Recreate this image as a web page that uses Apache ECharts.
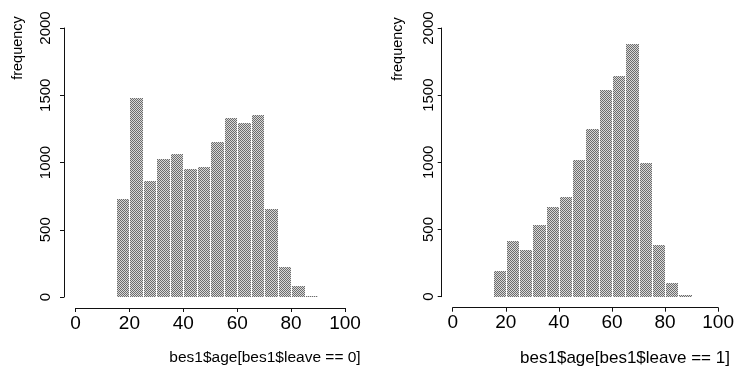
<!DOCTYPE html>
<html>
<head>
<meta charset="utf-8">
<script src="https://cdn.jsdelivr.net/npm/echarts@6/dist/echarts.min.js"></script>
<style>
  html, body { margin: 0; padding: 0; background: #fff; }
  #chart { width: 737px; height: 370px; }
</style>
</head>
<body>
<div id="chart"></div>
<script>
// Age histograms (5-year bins) split by the leave indicator
const binStarts = [15, 20, 25, 30, 35, 40, 45, 50, 55, 60, 65, 70, 75, 80, 85];
const binWidth = 5;
const countsLeave0 = [732, 1480, 866, 1025, 1062, 952, 968, 1155, 1333, 1296, 1351, 652, 225, 82, 8];
const countsLeave1 = [195, 415, 346, 532, 669, 742, 1015, 1246, 1536, 1641, 1880, 995, 384, 100, 13];
const xTicks = { min: 0, max: 100, interval: 20 };
const yTicks = { min: 0, max: 2000, interval: 500 };
const yTitle = 'frequency';
const xTitles = ['bes1$age[bes1$leave == 0]', 'bes1$age[bes1$leave == 1]'];

const chart = echarts.init(document.getElementById('chart'), null, { renderer: 'canvas' });

const ink = '#111';
const font = 'Liberation Sans, Arial, Helvetica, sans-serif';

// Halftone-style fill for the bars: a small ordered-dither tile of dark and light pixels
function makeHalftoneTile() {
  const bayer = [
    [0, 8, 2, 10],
    [12, 4, 14, 6],
    [3, 11, 1, 9],
    [15, 7, 13, 5]
  ];
  const size = 4;
  const c = document.createElement('canvas');
  c.width = size; c.height = size;
  const ctx = c.getContext('2d');
  for (let y = 0; y < size; y++) {
    for (let x = 0; x < size; x++) {
      ctx.fillStyle = bayer[y][x] < 8 ? '#6c6c6c' : '#d8d8d8';
      ctx.fillRect(x, y, 1, 1);
    }
  }
  return c;
}
const barFill = { image: makeHalftoneTile(), repeat: 'repeat' };

function histData(counts) {
  return binStarts.map((s, i) => [s, s + binWidth, counts[i]]);
}

function renderBin(params, api) {
  const p0 = api.coord([api.value(0), 0]);
  const p1 = api.coord([api.value(1), api.value(2)]);
  return {
    type: 'rect',
    shape: { x: Math.round(p0[0]) + 1, y: Math.round(p1[1]), width: Math.round(p1[0]) - Math.round(p0[0]) - 1, height: Math.round(p0[1]) - Math.round(p1[1]) },
    style: { fill: barFill }
  };
}

function xAxisOf(gi) {
  return {
    gridIndex: gi, type: 'value', min: xTicks.min, max: xTicks.max, interval: xTicks.interval,
    offset: 11,
    axisLine: { show: true, onZero: false, lineStyle: { color: ink, width: 1 } },
    axisTick: { show: true, length: 4, lineStyle: { color: ink } },
    splitLine: { show: false },
    axisLabel: { color: '#000', fontSize: 19, fontFamily: font, margin: 6 }
  };
}

function yAxisOf(gi) {
  return {
    gridIndex: gi, type: 'value', min: yTicks.min, max: yTicks.max, interval: yTicks.interval,
    offset: gi === 0 ? 11.5 : 11,
    axisLine: { show: true, onZero: false, lineStyle: { color: ink, width: 1 } },
    axisTick: { show: true, length: 4, lineStyle: { color: ink } },
    splitLine: { show: false },
    axisLabel: { color: '#000', fontSize: 15, fontFamily: font, rotate: 90, margin: gi === 0 ? 10.5 : 5,
                 formatter: v => String(v) }
  };
}

chart.setOption({
  animation: false,
  backgroundColor: '#fff',
  grid: [
    { left: 75.5, top: 28, width: 269.5, height: 269 },
    { left: 452.7, top: 28, width: 270, height: 268.7 }
  ],
  xAxis: [xAxisOf(0), xAxisOf(1)],
  yAxis: [yAxisOf(0), yAxisOf(1)],
  series: [
    { type: 'custom', xAxisIndex: 0, yAxisIndex: 0, renderItem: renderBin, data: histData(countsLeave0), encode: { x: [0, 1], y: 2 } },
    { type: 'custom', xAxisIndex: 1, yAxisIndex: 1, renderItem: renderBin, data: histData(countsLeave1), encode: { x: [0, 1], y: 2 } }
  ],
  graphic: [
    { type: 'text', x: 18, y: 48, rotation: Math.PI / 2,
      style: { text: yTitle, font: '14.5px ' + font, fill: '#000', align: 'center', verticalAlign: 'middle' } },
    { type: 'text', x: 398, y: 49, rotation: Math.PI / 2,
      style: { text: yTitle, font: '14.5px ' + font, fill: '#000', align: 'center', verticalAlign: 'middle' } },
    { type: 'text', x: 265, y: 358,
      style: { text: xTitles[0], font: '15.5px ' + font, fill: '#000', align: 'center', verticalAlign: 'middle' } },
    { type: 'text', x: 625, y: 358,
      style: { text: xTitles[1], font: '17px ' + font, fill: '#000', align: 'center', verticalAlign: 'middle' } }
  ]
});
</script>
</body>
</html>
